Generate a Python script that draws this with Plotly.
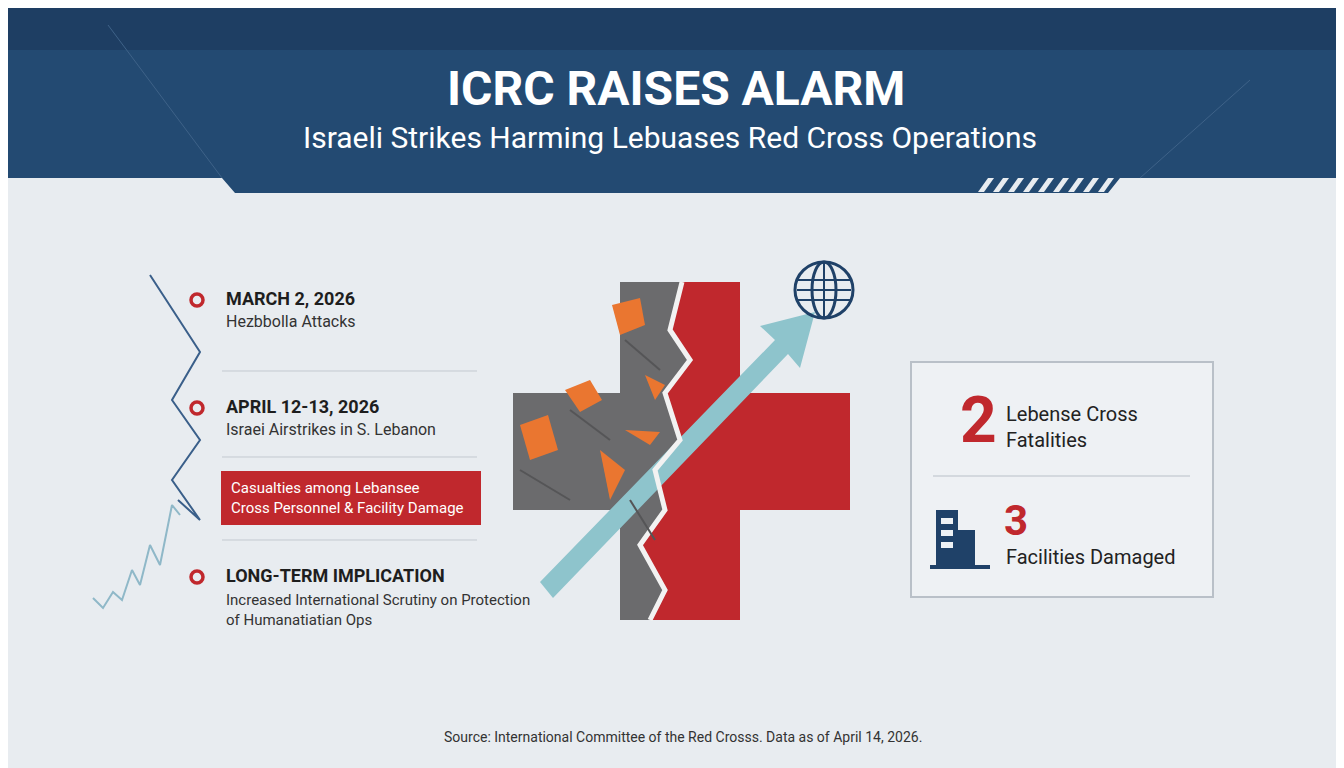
import plotly.graph_objects as go

# ---- data ----
event_dates = ["MARCH 2, 2026", "APRIL 12-13, 2026", "LONG-TERM IMPLICATION"]
event_notes = ["Hezbbolla Attacks", "Israei Airstrikes in S. Lebanon",
               "Increased International Scrutiny on Protection<br>of Humanatiatian Ops"]
event_y = [300, 408, 577]
highlight = "Casualties among Lebansee<br>Cross Personnel & Facility Damage"
stat_values = ["2", "3"]
stat_labels = ["Lebense Cross<br>Fatalities", "Facilities Damaged"]
zig_x = [150, 200, 172, 200, 172, 200, 178]
zig_y = [275, 352, 400, 440, 480, 520, 500]
trend_x = [93, 103, 113, 122, 132, 140, 150, 160, 172, 180]
trend_y = [598, 608, 592, 600, 570, 585, 545, 565, 505, 515]

W, H = 1344, 768
OFF = 8  # page body margin
NAVY = "#1f4168"
RED = "#c0282d"
BG = "#e8ecf0"
fig = go.Figure()
shapes = []

def rect(x0, y0, x1, y1, fill, line=None, lw=0):
    shapes.append(dict(type="rect", x0=x0, y0=y0, x1=x1, y1=y1, fillcolor=fill,
                       line=dict(color=line or fill, width=lw), layer="below"))

def poly(pts, fill, line=None, lw=0):
    p = "M " + " L ".join(f"{x},{y}" for x, y in pts) + " Z"
    shapes.append(dict(type="path", path=p, fillcolor=fill,
                       line=dict(color=line or fill, width=lw), layer="below"))

rect(-20, -20, W + 20, H + 20, BG)
poly([(-20, -20), (W + 20, -20), (W + 20, 178), (1120, 178), (1108, 193), (235, 193), (222, 178), (-20, 178)], "#234a72")
poly([(-20, -20), (W + 20, -20), (W + 20, 50), (-20, 50)], "#1e3e63")
for i in range(9):
    x = 978 + i * 15
    poly([(x, 192), (x + 6, 192), (x + 16, 178), (x + 10, 178)], BG)
shapes.append(dict(type="line", x0=108, y0=25, x1=222, y1=178, line=dict(color="#3e6288", width=1)))
shapes.append(dict(type="line", x0=1250, y0=80, x1=1140, y1=178, line=dict(color="#3e6288", width=1)))

# timeline separators and highlight box
for y in [371, 457, 540]:
    shapes.append(dict(type="line", x0=222, y0=y, x1=477, y1=y, line=dict(color="#c3c9d0", width=1)))
rect(221, 471, 481, 525, RED)

# cross
rect(620, 282, 740, 620, RED)
rect(513, 393, 850, 510, RED)
poly([(620, 282), (682, 282), (670, 330), (690, 360), (665, 393), (680, 440), (655, 470), (665, 510),
      (640, 545), (665, 590), (650, 620), (620, 620), (620, 510), (513, 510), (513, 393), (620, 393)], "#6b6b6d")
crack = [(682, 282), (670, 330), (690, 360), (665, 393), (680, 440), (655, 470), (665, 510), (640, 545), (665, 590), (650, 620)]
shapes.append(dict(type="path", path="M " + " L ".join(f"{x},{y}" for x, y in crack),
                   line=dict(color="#f2f2f2", width=5)))
for pts in [[(612, 305), (640, 298), (645, 325), (620, 335)], [(565, 390), (590, 380), (602, 400), (580, 412)],
            [(520, 425), (548, 415), (558, 450), (530, 460)], [(625, 430), (660, 432), (650, 445)],
            [(600, 450), (625, 470), (610, 500)], [(645, 375), (665, 385), (655, 400)]]:
    poly(pts, "#ea7630")
for x0, y0, x1, y1 in [(520, 470, 570, 500), (570, 410, 610, 440), (625, 340, 660, 370), (630, 500, 655, 540)]:
    shapes.append(dict(type="line", x0=x0, y0=y0, x1=x1, y1=y1, line=dict(color="#555557", width=2)))

# arrow
poly([(540, 582), (775, 340), (760, 326), (815, 312), (800, 368), (788, 354), (553, 598)], "#8ec4cc")
# globe
shapes.append(dict(type="circle", x0=795, y0=262, x1=853, y1=318, line=dict(color=NAVY, width=3)))
shapes.append(dict(type="circle", x0=812, y0=262, x1=836, y1=318, line=dict(color=NAVY, width=3)))
for y in [280, 290, 300]:
    shapes.append(dict(type="line", x0=797, y0=y, x1=851, y1=y, line=dict(color=NAVY, width=2)))
shapes.append(dict(type="line", x0=824, y0=262, x1=824, y1=318, line=dict(color=NAVY, width=2)))

# stat box
rect(911, 362, 1213, 597, "#eef1f4", "#b9c0c8", 2)
shapes.append(dict(type="line", x0=933, y0=476, x1=1190, y1=476, line=dict(color="#b9c0c8", width=1)))
rect(936, 510, 958, 565, NAVY)
rect(958, 530, 975, 565, NAVY)
rect(930, 565, 990, 569, NAVY)
for yy in [518, 530, 542]:
    rect(941, yy, 953, yy + 6, "#eef1f4")

fig.add_trace(go.Scatter(x=zig_x, y=zig_y, mode="lines", line=dict(color="#3a5f8a", width=2), hoverinfo="skip"))
fig.add_trace(go.Scatter(x=trend_x, y=trend_y, mode="lines", line=dict(color="#8fb8c8", width=2), hoverinfo="skip"))
fig.add_trace(go.Scatter(x=[197] * len(event_y), y=event_y, mode="markers", hoverinfo="skip",
                         marker=dict(size=12, color=BG, line=dict(color=RED, width=3.5))))

ann = []
def txt(x, y, s, size, color="#1e1e1e", bold=False, xa="left"):
    ann.append(dict(x=x, y=y, text=f"<b>{s}</b>" if bold else s, showarrow=False, xanchor=xa,
                    yanchor="middle", align="left", font=dict(size=size, color=color, family="Roboto")))

txt(676, 88, "ICRC RAISES ALARM", 48, "white", True, "center")
txt(670, 137, "Israeli Strikes Harming Lebuases Red Cross Operations", 30, "white", False, "center")
for d, n, y in zip(event_dates, event_notes, event_y):
    txt(224, y - 2, d, 18, bold=True)
    txt(224, y + (21 if "<br>" not in n else 33), n, 16 if "<br>" not in n else 15, "#333")
txt(229, 498, highlight, 15, "white")
txt(978, 420, stat_values[0], 64, RED, True, "center")
txt(1004, 427, stat_labels[0], 20, "#222")
txt(1016, 520, stat_values[1], 42, RED, True, "center")
txt(1004, 557, stat_labels[1], 20, "#222")
txt(683, 737, "Source: International Committee of the Red Crosss. Data as of April 14, 2026.", 14, "#333", False, "center")

fig.update_layout(width=W, height=H, margin=dict(l=0, r=0, t=0, b=0), showlegend=False,
                  shapes=shapes, annotations=ann, paper_bgcolor=BG, plot_bgcolor=BG,
                  xaxis=dict(range=[OFF, W + OFF], visible=False, fixedrange=True),
                  yaxis=dict(range=[H + OFF, OFF], visible=False, fixedrange=True))
fig.write_html("out.html", config={"displayModeBar": False})
